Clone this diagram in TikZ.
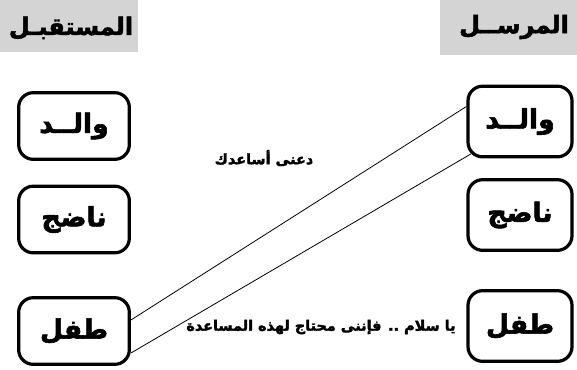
\documentclass[tikz,border=0pt]{standalone}
\usepackage{fontspec}
\newfontfamily\arabicfont[Script=Arabic, FakeBold=2.2]{DejaVu Sans Bold}
\TeXXeTstate=1
\usetikzlibrary{calc}
\tikzset{
  role/.style={draw=black, line width=2.4pt, rounded corners=11pt, inner sep=0pt,
    font=\arabicfont\fontsize{20}{24}\selectfont},
  lbox/.style={role, minimum width=83pt, minimum height=50pt},
  rbox/.style={role, minimum width=78pt, minimum height=53pt},
  head/.style={font=\arabicfont\fontsize{18}{22}\selectfont},
  shade/.style={fill=black!17, draw=none},
  msg/.style={font=\arabicfont\fontsize{10.8}{13}\selectfont, inner sep=1pt},
  link/.style={draw=black, line width=0.6pt}
}
\begin{document}
\begin{tikzpicture}[x=0.75pt, y=-0.75pt]
\useasboundingbox (0,0) rectangle (577,369);
\fill[white] (0,0) rectangle (577,369);
% header shading
\path[shade] (0,0) rectangle (138,52);
\path[shade] (440,0) rectangle (577,55);
\node[head] (hl) at (71,28) {\beginR المستقبـل\endR};
\node[head] (hr) at (514,27) {\beginR المرســل\endR};
% left column (receiver)
\node[lbox] (lv) at (74,126) {\beginR والــد\endR};
\node[lbox] (ln) at (74,219.5) {\beginR ناضج\endR};
\node[lbox] (lt) at (74,331) {\beginR طفل\endR};
% right column (sender)
\node[rbox] (rv) at (520,121.5) {\beginR والــد\endR};
\node[rbox] (rn) at (520,215) {\beginR ناضج\endR};
\node[rbox] (rt) at (520,326) {\beginR طفل\endR};
% connectors
\coordinate (a1) at ($(rv.west)+(0,-15)$);
\coordinate (b1) at ($(rv.south west)+(4.5,-4.5)$);
\coordinate (a2) at ($(lt.east)+(0,-11)$);
\coordinate (b2) at ($(lt.east)+(0,22)$);
\draw[link] (a1) -- (a2);
\draw[link] (b1) -- (b2);
% messages
\node[msg] (m1) at (264,158) {\beginR دعنى أساعدك\endR};
\node[msg] (m2) at (321,327) {\beginR يا سلام .. فإننى محتاج لهذه المساعدة\endR};
\end{tikzpicture}
\end{document}
